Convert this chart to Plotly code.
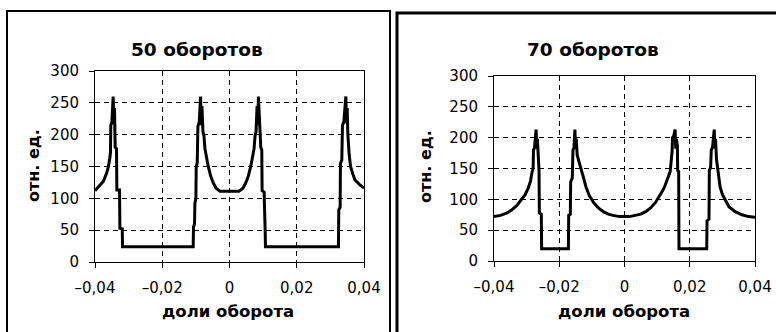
import plotly.graph_objects as go

# ---------------- data ----------------
titles = ["50 оборотов", "70 оборотов"]
x_title = "доли оборота"
y_title = "отн. ед."
x_tickvals = [-0.04, -0.02, 0.0, 0.02, 0.04]
x_ticktext = ["–0,04", "–0,02", "0", "0,02", "0,04"]
y_tickvals = [0, 50, 100, 150, 200, 250, 300]
y_ticktext = ["0", "50", "100", "150", "200", "250", "300"]

x50 = [-0.0400, -0.0388, -0.0375, -0.0365, -0.0360, -0.0356, -0.0354, -0.0353, -0.0350, -0.0346,
       -0.0344, -0.0342, -0.0340, -0.0336, -0.0335, -0.0327, -0.0326, -0.0319, -0.0318,
       -0.0108, -0.0107, -0.0104, -0.0103, -0.0100, -0.0099, -0.0096, -0.0094, -0.0090, -0.0086,
       -0.0084, -0.0082, -0.0079, -0.0076, -0.0073, -0.0068, -0.0064, -0.0056, -0.0049, -0.0040,
       -0.0034, -0.0028,
       0.0028, 0.0034, 0.0040, 0.0049, 0.0056, 0.0064, 0.0068, 0.0073, 0.0076, 0.0079,
       0.0082, 0.0084, 0.0086, 0.0089, 0.0093, 0.0096, 0.0097, 0.0103, 0.0104, 0.0106, 0.0107,
       0.0324, 0.0325, 0.0329, 0.0330, 0.0334, 0.0336, 0.0340, 0.0346, 0.0348, 0.0350,
       0.0352, 0.0356, 0.0360, 0.0367, 0.0373, 0.0388, 0.0400]
y50 = [112, 120, 127, 140, 150, 163, 172, 215, 218, 260,
       218, 242, 180, 178, 113, 113, 53, 52, 24,
       24, 55, 60, 92, 100, 150, 155, 213, 220, 260,
       215, 245, 205, 198, 178, 163, 152, 135, 125, 116,
       113, 111,
       111, 113, 116, 125, 135, 152, 163, 178, 198, 205,
       245, 215, 260, 218, 180, 176, 112, 110, 53, 50, 24,
       24, 82, 86, 155, 160, 215, 220, 260, 218, 242,
       200, 168, 150, 138, 129, 121, 116]

x70 = [-0.0400, -0.0380, -0.0360, -0.0345, -0.0330, -0.0320, -0.0305, -0.0295, -0.0288, -0.0283,
       -0.0280, -0.0279, -0.0276, -0.0271, -0.0269, -0.0267, -0.0264, -0.0262, -0.0261, -0.0255,
       -0.0254,
       -0.0172, -0.0171, -0.0166, -0.0165, -0.0160, -0.0158, -0.0155, -0.0152, -0.0150, -0.0148,
       -0.0145, -0.0139, -0.0133, -0.0126, -0.0118, -0.0108, -0.0095, -0.0080, -0.0065, -0.0050,
       -0.0035, -0.0015,
       0.0015, 0.0035, 0.0050, 0.0065, 0.0080, 0.0095, 0.0108, 0.0118, 0.0124, 0.0132,
       0.0140, 0.0146, 0.0147, 0.0151, 0.0155, 0.0157, 0.0159, 0.0162, 0.0163, 0.0166, 0.0167,
       0.0252, 0.0253, 0.0259, 0.0260, 0.0264, 0.0266, 0.0270, 0.0275, 0.0277, 0.0279,
       0.0282, 0.0287, 0.0293, 0.0300, 0.0308, 0.0320, 0.0339, 0.0360, 0.0380, 0.0400]
y70 = [72, 74, 78, 83, 90, 97, 107, 118, 130, 145,
       150, 180, 183, 213, 182, 198, 150, 147, 78, 76,
       20,
       20, 74, 76, 128, 135, 180, 183, 213, 182, 198,
       172, 160, 150, 136, 120, 106, 95, 86, 80, 76,
       74, 72,
       72, 74, 76, 80, 86, 95, 106, 115, 122, 133,
       145, 178, 200, 203, 213, 182, 198, 188, 147, 145, 20,
       20, 65, 68, 147, 152, 180, 185, 213, 182, 198,
       165, 140, 120, 108, 99, 88, 80, 75, 72, 71]

# ---------------- figure ----------------
W, H = 776, 332
FONT = "DejaVu Sans"


def px_x(p):
    return p / W


def px_y(p):
    return 1 - p / H


fig = go.Figure()
fig.add_trace(go.Scatter(x=x50, y=y50, mode="lines", line=dict(color="black", width=3),
                         xaxis="x", yaxis="y", showlegend=False, hoverinfo="skip"))
fig.add_trace(go.Scatter(x=x70, y=y70, mode="lines", line=dict(color="black", width=3),
                         xaxis="x2", yaxis="y2", showlegend=False, hoverinfo="skip"))

xcommon = dict(range=[-0.04, 0.04], tickvals=x_tickvals, ticktext=x_ticktext,
               showline=True, mirror=True, linecolor="black", linewidth=1,
               ticks="outside", ticklen=5, tickcolor="black", tickwidth=1,
               showgrid=True, gridcolor="black", gridwidth=1, griddash="5px,4px",
               zeroline=False, ticklabelstandoff=7, automargin=False,
               tickfont=dict(family=FONT, size=15, color="black"), fixedrange=True)
ycommon = dict(range=[0, 300], tickvals=y_tickvals, ticktext=y_ticktext,
               showline=True, mirror=True, linecolor="black", linewidth=1,
               ticks="outside", ticklen=5, tickcolor="black", tickwidth=1,
               showgrid=True, gridcolor="black", gridwidth=1, griddash="5px,4px",
               zeroline=False, ticklabelstandoff=7, automargin=False,
               tickfont=dict(family=FONT, size=15, color="black"), fixedrange=True)

fig.update_layout(
    width=W, height=H,
    margin=dict(l=0, r=0, t=0, b=0, pad=0, autoexpand=False),
    paper_bgcolor="white", plot_bgcolor="white",
    xaxis=dict(domain=[px_x(95), px_x(364)], anchor="y", **xcommon),
    yaxis=dict(domain=[px_y(262), px_y(71)], anchor="x", **ycommon),
    xaxis2=dict(domain=[px_x(494), px_x(755)], anchor="y2", **xcommon),
    yaxis2=dict(domain=[px_y(261), px_y(76)], anchor="x2", **ycommon),
)

ann = []
for txt, cx in zip(titles, [197, 593]):
    ann.append(dict(text="<b>" + txt + "</b>", x=px_x(cx), y=px_y(50), xref="paper", yref="paper",
                    xanchor="center", yanchor="middle", showarrow=False,
                    font=dict(family=FONT, size=18.5, color="black")))
for cx in [228, 624]:
    ann.append(dict(text="<b>" + x_title + "</b>", x=px_x(cx), y=px_y(311), xref="paper", yref="paper",
                    xanchor="center", yanchor="middle", showarrow=False,
                    font=dict(family=FONT, size=16.5, color="black")))
for cx, cy in [(33, 166), (425, 167)]:
    ann.append(dict(text="<b>" + y_title + "</b>", x=px_x(cx), y=px_y(cy), xref="paper", yref="paper",
                    xanchor="center", yanchor="middle", showarrow=False, textangle=-90,
                    font=dict(family=FONT, size=16, color="black")))
fig.update_layout(annotations=ann)

shapes = [
    dict(type="rect", xref="paper", yref="paper", x0=px_x(7), x1=px_x(390), y0=px_y(340), y1=px_y(11),
         line=dict(color="black", width=2), fillcolor="rgba(0,0,0,0)", layer="below"),
    dict(type="rect", xref="paper", yref="paper", x0=px_x(397), x1=px_x(790), y0=px_y(340), y1=px_y(13),
         line=dict(color="black", width=3), fillcolor="rgba(0,0,0,0)", layer="below"),
]
fig.update_layout(shapes=shapes)

fig.write_html("out.html", config={"displayModeBar": False},
               post_script="document.body.style.margin='0';document.body.style.overflow='hidden';")
